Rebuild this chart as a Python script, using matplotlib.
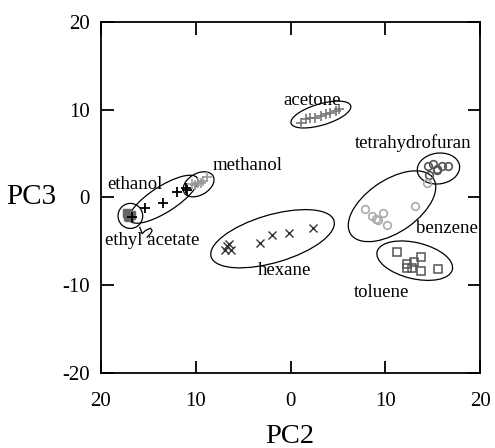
import matplotlib
matplotlib.use("Agg")
import matplotlib.pyplot as plt
from matplotlib.patches import Ellipse
import numpy as np

plt.rcParams['font.family'] = ['Liberation Serif', 'DejaVu Serif']

# ---- data (PC2, PC3) ----
ethyl_x = [-17.3, -17.0, -16.8, -17.1]
ethyl_y = [-1.8, -2.2, -2.0, -2.1]
ethanol_x = [-16.7, -15.4, -13.5, -12.0, -11.0, -10.9]
ethanol_y = [-2.2, -1.2, -0.6, 0.6, 1.1, 0.9]
methanol_x = [-10.4, -10.1, -9.8, -9.5, -9.2, -8.8]
methanol_y = [1.5, 1.4, 1.6, 1.7, 1.9, 2.3]
acetone_x = [1.1, 1.6, 2.1, 2.6, 3.2, 3.7, 4.2, 4.8, 5.1]
acetone_y = [8.5, 8.9, 9.1, 9.1, 9.3, 9.5, 9.6, 9.8, 10.1]
hexane_x = [-6.9, -6.7, -6.5, -6.3, -3.2, -2.0, -0.2, 2.4]
hexane_y = [-6.0, -5.5, -5.3, -6.0, -5.2, -4.3, -4.1, -3.5]
thf_x = [14.5, 15.0, 15.5, 16.0, 16.6, 14.6, 15.4]
thf_y = [3.6, 3.8, 3.1, 3.6, 3.6, 2.6, 3.3]
benzene_x = [14.4, 13.1, 7.9, 8.6, 9.2, 9.0, 9.7, 10.2]
benzene_y = [1.7, -1.0, -1.3, -2.1, -2.6, -2.5, -1.8, -3.1]
toluene_x = [11.2, 12.3, 12.8, 12.3, 13.0, 13.8, 13.8, 15.6]
toluene_y = [-6.2, -7.6, -8.0, -8.0, -7.4, -6.8, -8.4, -8.1]

x_ticks = [-20, -10, 0, 10, 20]
x_ticklabels = ["20", "10", "0", "10", "20"]
y_ticks = [-20, -10, 0, 10, 20]
y_ticklabels = ["-20", "-10", "0", "10", "20"]

fig = plt.figure(figsize=(4.95, 4.48), dpi=100)
ax = fig.add_axes([0.204, 0.1674, 0.766, 0.7836])

ms = 5.5
ax.plot(ethyl_x, ethyl_y, 's', color='#666666', mfc='#666666', ms=ms)
ax.plot(ethanol_x, ethanol_y, '+', color='black', ms=ms + 1, mew=1.3)
ax.plot(methanol_x, methanol_y, '+', color='#999999', ms=ms + 1, mew=1.2)
ax.plot(acetone_x, acetone_y, '+', color='#777777', ms=ms + 1, mew=1.2)
ax.plot(hexane_x, hexane_y, 'x', color='#333333', ms=ms, mew=1.0)
ax.plot(thf_x, thf_y, 'o', color='#555555', mfc='none', ms=ms, mew=1.2)
ax.plot(benzene_x, benzene_y, 'o', color='#aaaaaa', mfc='none', ms=ms, mew=1.2)
ax.plot(toluene_x, toluene_y, 's', color='#555555', mfc='none', ms=ms, mew=1.1)

ells = [
    ((-16.9, -2.1), 2.6, 2.85, 0),
    ((-13.4, -0.2), 8.6, 2.9, 35),
    ((-9.7, 1.5), 3.6, 2.4, 35),
    ((3.2, 9.45), 6.6, 2.4, 18),
    ((-1.9, -4.7), 13.6, 5.4, 18),
    ((15.6, 3.3), 4.5, 3.5, 10),
    ((10.7, -1.0), 10.8, 5.8, 38),
    ((13.1, -7.2), 8.2, 4.1, -15),
]
for c, w, h, a in ells:
    ax.add_patch(Ellipse(c, w, h, angle=a, fill=False, ec='black', lw=0.9))

# small curl from ethyl acetate loop toward its label
tx = [-15.9, -15.66, -15.31, -14.78, -14.6, -14.78, -15.13]
ty = [-3.4, -4.13, -3.76, -3.50, -3.76, -4.13, -4.52]
ax.plot(tx, ty, color='black', lw=0.9)

fs = 13.5
ax.text(2.3, 11.0, "acetone", fontsize=fs, ha='center', va='center')
ax.text(-4.5, 3.6, "methanol", fontsize=fs, ha='center', va='center')
ax.text(-16.4, 1.5, "ethanol", fontsize=fs, ha='center', va='center')
ax.text(-14.6, -4.9, "ethyl acetate", fontsize=fs, ha='center', va='center')
ax.text(-0.6, -8.3, "hexane", fontsize=fs, ha='center', va='center')
ax.text(12.9, 6.2, "tetrahydrofuran", fontsize=fs, ha='center', va='center')
ax.text(16.5, -3.5, "benzene", fontsize=fs, ha='center', va='center')
ax.text(9.6, -10.8, "toluene", fontsize=fs, ha='center', va='center')

ax.set_xlim(-20, 20)
ax.set_ylim(-20, 20)
ax.set_xticks(x_ticks)
ax.set_xticklabels(x_ticklabels)
ax.set_yticks(y_ticks)
ax.set_yticklabels(y_ticklabels)
ax.tick_params(direction='in', length=9, width=1.3, labelsize=15, pad=8,
               top=True, right=True)
ax.tick_params(axis='x', pad=14)
for s in ax.spines.values():
    s.set_linewidth(1.3)

fig.text(0.586, 0.025, "PC2", fontsize=20.5, ha='center', va='center')
ax.set_ylabel("PC3", fontsize=21, rotation=0, labelpad=22, va='center')

fig.savefig("out.png", dpi=100)
